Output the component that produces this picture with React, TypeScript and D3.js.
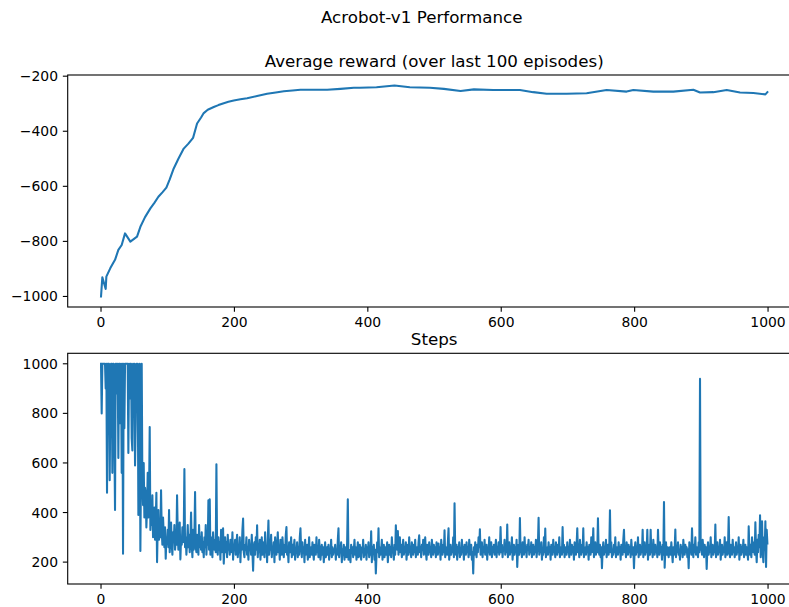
import React from "react";
import * as d3 from "d3";

const suptitle = "Acrobot-v1 Performance";
const rewardTitle = "Average reward (over last 100 episodes)";
const stepsTitle = "Steps";

const xTicks = [0, 200, 400, 600, 800, 1000];
const rewardTicks = [-1000, -800, -600, -400, -200];
const stepsTicks = [200, 400, 600, 800, 1000];

// Average reward: episode -> value
const rewardEpisodes = [0, 2, 7, 8, 14, 21, 26, 31, 36, 44, 54, 59, 66, 74, 80, 86, 92, 98, 103, 109, 116, 124, 131, 138, 144, 150, 154, 160, 169, 176, 184, 191, 199, 209, 219, 234, 249, 262, 274, 287, 299, 319, 339, 359, 379, 388, 413, 440, 463, 493, 514, 539, 559, 588, 628, 648, 668, 698, 728, 758, 788, 798, 828, 858, 888, 898, 918, 938, 958, 978, 996, 999];
const rewardValues = [-1000, -930, -973, -928, -897, -867, -831, -813, -771, -801, -783, -747, -712, -680, -660, -638, -622, -605, -575, -535, -500, -463, -445, -424, -372, -350, -334, -322, -312, -305, -298, -293, -288, -284, -280, -272, -264, -259, -255, -252, -249, -249, -249, -246, -242, -242, -240, -234, -240, -242, -246, -254, -248, -250, -250, -258, -264, -264, -262, -250, -256, -250, -256, -256, -249, -259, -258, -250, -259, -261, -266, -258];

// Steps per episode (episodes 0..999)
const steps = [
  1000, 800, 1000, 1000, 1000, 1000, 1000, 900, 1000, 480, 1000, 1000, 1000, 530, 860, 1000, 1000, 560, 1000, 1000, 700, 410, 1000, 1000, 880, 1000, 620, 1000, 1000, 760, 1000, 560, 1000, 234, 1000, 740, 1000, 1000, 1000, 1000, 1000, 640, 1000, 860, 1000, 1000, 700, 650, 1000, 820,
  1000, 590, 760, 1000, 920, 1000, 390, 700, 1000, 245, 600, 1000, 520, 430, 600, 380, 500, 470, 340, 420, 560, 380, 460, 745, 330, 400, 350, 470, 300, 380, 420, 290, 360, 480, 200, 340, 410, 290, 360, 300, 490, 330, 270, 380, 310, 260, 340, 214, 300, 280,
  330, 260, 410, 240, 300, 360, 270, 230, 320, 280, 350, 250, 300, 270, 470, 320, 250, 290, 360, 211, 300, 270, 340, 280, 310, 575, 260, 300, 230, 280, 350, 260, 310, 240, 290, 400, 270, 220, 330, 250, 300, 483, 260, 240, 310, 280, 230, 350, 260, 300,
  250, 320, 240, 280, 220, 300, 260, 350, 230, 290, 270, 449, 250, 453, 230, 300, 260, 220, 320, 270, 250, 290, 240, 595, 260, 230, 300, 250, 280, 210, 330, 240, 270, 336, 194, 260, 300, 240, 280, 220, 310, 250, 270, 230, 290, 260, 240, 320, 210, 270,
  250, 290, 230, 270, 310, 220, 260, 240, 300, 200, 280, 250, 330, 376, 240, 220, 270, 250, 300, 230, 260, 210, 290, 250, 270, 230, 310, 240, 165, 260, 280, 230, 300, 250, 349, 220, 270, 240, 290, 210, 260, 300, 230, 250, 280, 220, 320, 240, 260, 200,
  290, 368, 230, 270, 250, 310, 220, 260, 240, 280, 200, 300, 250, 230, 270, 320, 240, 260, 210, 290, 250, 230, 300, 260, 220, 270, 240, 310, 341, 230, 260, 200, 280, 250, 240, 300, 220, 270, 230, 260, 290, 210, 250, 240, 280, 220, 260, 230, 300, 336,
  250, 220, 280, 240, 260, 200, 290, 230, 250, 270, 210, 240, 300, 220, 260, 250, 230, 280, 240, 210, 270, 250, 230, 300, 240, 260, 220, 290, 250, 210, 240, 270, 230, 260, 200, 250, 280, 220, 240, 260, 230, 270, 210, 250, 240, 290, 220, 260, 230, 250,
  240, 270, 210, 250, 230, 290, 336, 220, 260, 240, 280, 200, 250, 230, 270, 210, 260, 240, 220, 280, 453, 210, 250, 230, 200, 270, 240, 260, 220, 250, 290, 230, 260, 210, 240, 280, 220, 250, 270, 230, 210, 260, 240, 290, 220, 250, 230, 270, 210, 260,
  240, 280, 220, 250, 230, 324, 200, 260, 240, 270, 210, 250, 154, 230, 280, 240, 336, 220, 260, 230, 250, 290, 210, 240, 270, 220, 260, 230, 250, 280, 200, 240, 270, 230, 260, 220, 300, 240, 250, 210, 270, 230, 349, 280, 250, 325, 230, 260, 300, 240,
  270, 220, 250, 290, 230, 260, 240, 280, 210, 250, 270, 230, 300, 240, 260, 220, 280, 250, 230, 270, 240, 290, 220, 260, 250, 230, 280, 308, 240, 260, 220, 270, 250, 290, 230, 260, 300, 240, 210, 270, 250, 230, 280, 240, 260, 220, 290, 250, 230, 270,
  240, 260, 220, 280, 250, 230, 275, 240, 260, 210, 290, 250, 230, 270, 240, 328, 220, 260, 250, 230, 280, 336, 210, 250, 270, 230, 260, 240, 300, 220, 437, 250, 230, 270, 210, 260, 240, 280, 220, 250, 230, 290, 240, 260, 210, 270, 250, 230, 280, 240,
  260, 220, 290, 250, 230, 270, 210, 240, 154, 260, 230, 280, 250, 220, 270, 240, 300, 260, 332, 230, 250, 280, 220, 260, 240, 290, 230, 250, 270, 210, 260, 240, 300, 230, 250, 280, 220, 260, 240, 270, 230, 250, 290, 220, 260, 240, 280, 230, 250, 341,
  240, 270, 220, 260, 250, 290, 230, 260, 240, 352, 220, 250, 280, 230, 260, 240, 300, 210, 250, 270, 230, 260, 240, 290, 180, 250, 270, 230, 378, 240, 260, 220, 280, 250, 230, 300, 240, 260, 220, 270, 250, 290, 230, 260, 240, 280, 220, 250, 270, 230,
  260, 240, 290, 220, 250, 270, 379, 230, 260, 240, 280, 210, 250, 230, 300, 240, 335, 220, 260, 250, 230, 280, 240, 260, 210, 270, 250, 230, 290, 240, 260, 220, 280, 250, 230, 270, 240, 300, 220, 260, 250, 230, 341, 240, 270, 220, 260, 250, 230, 280,
  240, 260, 220, 290, 250, 230, 270, 240, 260, 210, 280, 250, 230, 270, 336, 240, 260, 220, 290, 250, 230, 270, 240, 336, 220, 260, 250, 230, 280, 240, 260, 210, 270, 250, 230, 300, 240, 260, 336, 220, 250, 280, 230, 260, 240, 377, 250, 230, 270, 220,
  260, 175, 250, 280, 230, 260, 240, 290, 220, 250, 270, 230, 260, 409, 240, 280, 220, 250, 230, 270, 240, 300, 220, 260, 250, 230, 280, 240, 260, 210, 270, 250, 230, 290, 330, 240, 260, 220, 280, 250, 230, 270, 240, 260, 220, 290, 250, 230, 260, 175,
  250, 280, 230, 260, 240, 300, 220, 250, 270, 230, 260, 240, 330, 220, 250, 280, 230, 260, 240, 330, 210, 250, 270, 230, 330, 240, 260, 220, 290, 250, 230, 270, 240, 260, 220, 330, 250, 230, 280, 240, 260, 210, 270, 230, 442, 177, 250, 280, 230, 260,
  240, 220, 260, 250, 230, 280, 240, 200, 260, 230, 250, 331, 220, 260, 240, 280, 230, 250, 210, 270, 240, 260, 220, 290, 250, 230, 270, 240, 260, 220, 250, 175, 280, 240, 260, 230, 336, 250, 220, 270, 240, 300, 230, 260, 250, 220, 280, 240, 939, 250,
  260, 230, 290, 250, 220, 270, 240, 260, 172, 250, 280, 230, 260, 240, 300, 220, 250, 270, 230, 260, 240, 352, 220, 250, 280, 230, 260, 240, 290, 210, 250, 270, 230, 260, 240, 300, 220, 250, 280, 230, 260, 382, 240, 220, 270, 250, 230, 290, 240, 260,
  220, 250, 280, 230, 260, 240, 300, 210, 250, 270, 230, 260, 240, 290, 220, 250, 270, 230, 260, 240, 210, 344, 250, 230, 270, 220, 300, 250, 240, 280, 230, 361, 250, 200, 290, 240, 310, 260, 389, 220, 280, 365, 240, 200, 300, 250, 365, 180, 330, 275,
];

const W = 789;
const H = 607;
const FONT = "DejaVu Sans, sans-serif";
const BLUE = "#1f77b4";
const AX_L = 67.7;
const AX_R = 800.7;
const TOP = { t: 75, b: 307 };
const BOT = { t: 353.3, b: 584 };
const TICK = 4.86;
const PAD = 4.86;
const TICK_FS = 13.9;
const TITLE_FS = 16.7;

function padDomain(lo: number, hi: number): [number, number] {
  const m = (hi - lo) * 0.05;
  return [lo - m, hi + m];
}

const fmt = (v: number) => (v < 0 ? "\u2212" + Math.abs(v) : String(v));

function Panel({ top, bottom, xs, ys, yTicks, title, clipId }: any) {
  const x = d3.scaleLinear().domain(padDomain(0, 999)).range([AX_L, AX_R]);
  const [lo, hi] = d3.extent(ys) as [number, number];
  const y = d3.scaleLinear().domain(padDomain(lo, hi)).range([bottom, top]);
  const line = d3
    .line<number>()
    .x((_, i) => x(xs[i]))
    .y((d) => y(d));
  return (
    <g>
      <defs>
        <clipPath id={clipId}>
          <rect x={AX_L} y={top} width={AX_R - AX_L} height={bottom - top} />
        </clipPath>
      </defs>
      <path
        d={line(ys) || ""}
        fill="none"
        stroke={BLUE}
        strokeWidth={2.08}
        strokeLinejoin="round"
        strokeLinecap="square"
        clipPath={`url(#${clipId})`}
      />
      <rect
        x={AX_L}
        y={top}
        width={AX_R - AX_L}
        height={bottom - top}
        fill="none"
        stroke="#000"
        strokeWidth={1.1}
      />
      {xTicks.map((t) => (
        <g key={"x" + t}>
          <line x1={x(t)} x2={x(t)} y1={bottom} y2={bottom + TICK} stroke="#000" strokeWidth={1.1} />
          <text
            x={x(t)}
            y={bottom + TICK + PAD + TICK_FS * 0.76}
            textAnchor="middle"
            fontSize={TICK_FS}
            fontFamily={FONT}
            fill="#000"
          >
            {fmt(t)}
          </text>
        </g>
      ))}
      {yTicks.map((t: number) => (
        <g key={"y" + t}>
          <line x1={AX_L - TICK} x2={AX_L} y1={y(t)} y2={y(t)} stroke="#000" strokeWidth={1.1} />
          <text
            x={AX_L - TICK - PAD}
            y={y(t)}
            dy="0.36em"
            textAnchor="end"
            fontSize={TICK_FS}
            fontFamily={FONT}
            fill="#000"
          >
            {fmt(t)}
          </text>
        </g>
      ))}
      <text
        x={(AX_L + AX_R) / 2}
        y={top - 8.33}
        textAnchor="middle"
        fontSize={TITLE_FS}
        fontFamily={FONT}
        fill="#000"
      >
        {title}
      </text>
    </g>
  );
}

export default function App() {
  const stepEpisodes = steps.map((_, i) => i);
  return (
    <svg
      width={W}
      height={H}
      viewBox={`0 0 ${W} ${H}`}
      style={{ position: "absolute", left: 0, top: 0, background: "#fff" }}
    >
      <rect x={0} y={0} width={W} height={H} fill="#fff" />
      <text x={421.7} y={22.7} textAnchor="middle" fontSize={TITLE_FS} fontFamily={FONT} fill="#000">
        {suptitle}
      </text>
      <Panel
        top={TOP.t}
        bottom={TOP.b}
        xs={rewardEpisodes}
        ys={rewardValues}
        yTicks={rewardTicks}
        title={rewardTitle}
        clipId="clipTop"
      />
      <Panel
        top={BOT.t}
        bottom={BOT.b}
        xs={stepEpisodes}
        ys={steps}
        yTicks={stepsTicks}
        title={stepsTitle}
        clipId="clipBot"
      />
    </svg>
  );
}
